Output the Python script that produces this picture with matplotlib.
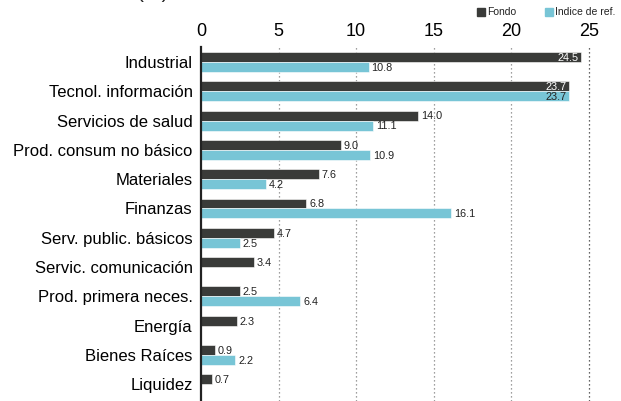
import numpy as np
import matplotlib.pyplot as plt

sectores = ['Industrial', 'Tecnol. información', 'Servicios de salud',
            'Prod. consum no básico', 'Materiales', 'Finanzas',
            'Serv. public. básicos', 'Servic. comunicación',
            'Prod. primera neces.', 'Energía', 'Bienes Raíces', 'Liquidez']
fondo = [24.5, 23.7, 14.0, 9.0, 7.6, 6.8, 4.7, 3.4, 2.5, 2.3, 0.9, 0.7]
indice = [10.8, 23.7, 11.1, 10.9, 4.2, 16.1, 2.5, np.nan, 6.4, np.nan, 2.2, np.nan]
ticks = [0, 5, 10, 15, 20, 25]

c_fondo = '#3a3b39'
c_ref = '#78c5d6'
plt.rcParams['font.family'] = ['Liberation Sans', 'DejaVu Sans']

W, H = 621, 401
fig = plt.figure(figsize=(W / 100, H / 100), dpi=100)
ax = fig.add_axes([201 / W, 0, (612 - 201) / W, (H - 47) / H])

y = np.arange(len(sectores))
h = 0.34
ax.barh(y - h / 2, fondo, height=h, color=c_fondo, edgecolor='white', linewidth=0.4, zorder=2)
ax.barh(y + h / 2, indice, height=h, color=c_ref, edgecolor='white', linewidth=0.4, zorder=2)

# etiquetas de valores
for i in range(len(sectores)):
    for val, off, col in [(fondo[i], -h / 2, c_fondo), (indice[i], h / 2, c_ref)]:
        if np.isnan(val):
            continue
        if val > 20:
            tc = 'white' if col == c_fondo else '#222222'
            ax.text(val - 0.15, y[i] + off + 0.03, f'{val:.1f}', ha='right', va='center',
                    fontsize=7.8, color=tc, zorder=3)
        else:
            ax.text(val + 0.2, y[i] + off + 0.03, f'{val:.1f}', ha='left', va='center',
                    fontsize=7.8, color='#222222', zorder=3)

ax.set_xlim(0, 26.5)
ax.set_ylim(11.57, -0.51)
ax.set_yticks(y)
ax.set_yticklabels(sectores, fontsize=12)
ax.set_xticks(ticks)
ax.set_xticklabels([str(t) for t in ticks], fontsize=13)
ax.xaxis.tick_top()
ax.tick_params(axis='x', length=0, pad=5)
ax.tick_params(axis='y', length=0, pad=6)
for s in ['top', 'right', 'bottom']:
    ax.spines[s].set_visible(False)
ax.spines['left'].set_linewidth(1.6)
ax.spines['left'].set_color('#222222')
ax.spines['left'].set_zorder(4)
for t in ticks[1:]:
    gc = '#333333' if t == 25 else '#808080'
    ax.axvline(t, color=gc, linestyle=(0, (1, 2.2)), linewidth=0.9, zorder=1)

# leyenda
fig.patches.append(plt.Rectangle((477 / W, 1 - 16 / H), 8 / W, 8 / H, transform=fig.transFigure,
                                 color=c_fondo, figure=fig))
fig.text(487 / W, 1 - 12 / H, 'Fondo', fontsize=7.5, va='center', color='#222222')
fig.patches.append(plt.Rectangle((545 / W, 1 - 16 / H), 8 / W, 8 / H, transform=fig.transFigure,
                                 color=c_ref, figure=fig))
fig.text(555 / W, 1 - 12 / H, 'Indice de ref.', fontsize=7.5, va='center', color='#222222')

# titulo cortado arriba
fig.text(137 / W, 1 + 1.5 / H, '(%)', fontsize=15, va='baseline', color='#222222')

fig.savefig('out.png', dpi=100)
